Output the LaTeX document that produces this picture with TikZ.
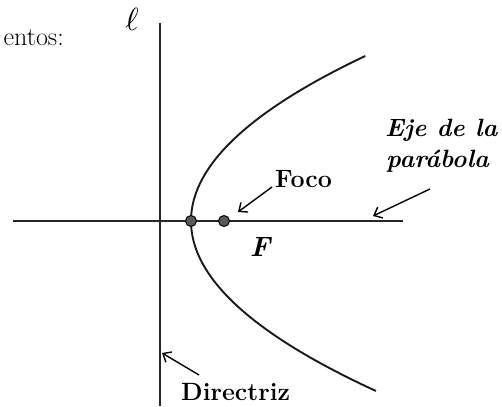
\documentclass[tikz,border=0pt]{standalone}
\usepackage{fontspec}
\usetikzlibrary{arrows.meta}
\begin{document}
\begin{tikzpicture}[x=1pt,y=1pt,
  axisline/.style={line width=1.6pt,black!85},
  curve/.style={line width=1.9pt,black!90},
  pointer/.style={line width=1.4pt,-{Straight Barb[length=7pt,width=12pt,line width=1.4pt]}},
  dotmark/.style={circle,draw=black,line width=1pt,fill=black!65,inner sep=0pt,minimum size=11pt},
  lbl/.style={font=\fontsize{25}{30}\selectfont\bfseries,inner sep=0pt},
  ilbl/.style={font=\fontsize{25}{30}\selectfont\bfseries\itshape,inner sep=0pt}]
\useasboundingbox (0,0) rectangle (502,406);
% axes
\coordinate (ltop) at (160,383);
\coordinate (lbot) at (160,0);
\coordinate (xl) at (13,185);
\coordinate (xr) at (403,185);
\draw[axisline] (ltop) -- (lbot);
\draw[axisline] (xl) -- (xr);
% parabola x = 191 + a (y-185)^2
\draw[curve,domain=-170:165,samples=120,smooth] plot ({191+(0.08*\x)*(0.08*\x)},{185+\x});
% points
\node[dotmark] (V) at (191,185) {};
\node[dotmark] (Fdot) at (224,185) {};
% labels
\node[font=\fontsize{26}{30}\selectfont,anchor=base east,inner sep=0pt] (top) at (64,360) {entos:};
\node[anchor=base,inner sep=0pt] (ell) at (132,375) {\scalebox{3.2}{$\ell$}};
\node[lbl,anchor=base west] (foco) at (275,218) {Foco};
\node[ilbl,font=\fontsize{28}{32}\selectfont\bfseries\itshape,anchor=base] (F) at (260,149) {F};
\node[ilbl,anchor=base west] (eje) at (385,269) {Eje de la};
\node[ilbl,anchor=base west] (parab) at (386,238) {parábola};
\node[lbl,anchor=base west] (dir) at (181,6) {Directriz};
% arrows
\coordinate (ftail) at (272,219);
\coordinate (ftip) at (238,194);
\coordinate (atail) at (430,217);
\coordinate (atip) at (373,190);
\coordinate (dtail) at (199,31);
\coordinate (dtip) at (162,53);
\draw[pointer] (ftail) -- (ftip);
\draw[pointer] (atail) -- (atip);
\draw[pointer] (dtail) -- (dtip);
\end{tikzpicture}
\end{document}
